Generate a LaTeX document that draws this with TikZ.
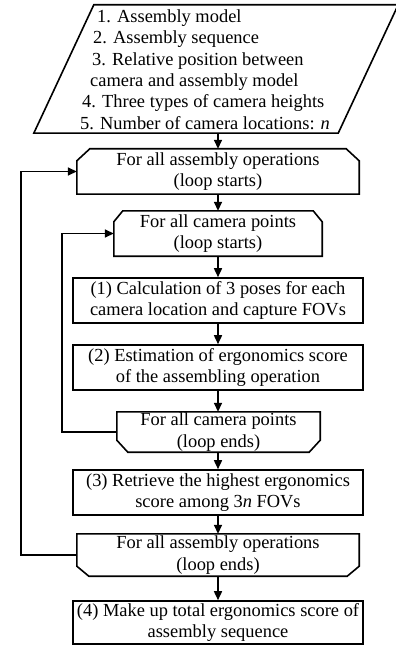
\documentclass[tikz,border=0pt]{standalone}
\usepackage{fontspec}
\setmainfont{Liberation Serif}
\usetikzlibrary{arrows.meta,calc}

% outline of a loop box whose top corners are cut off
\newcommand\chamtop[3]{%
  \draw[edge] (#1.south west) -- ($(#1.north west)+(0,#3)$) -- ($(#1.north west)+(#2,0)$)
    -- ($(#1.north east)+(-#2,0)$) -- ($(#1.north east)+(0,#3)$) -- (#1.south east) -- cycle;}
% outline of a loop box whose bottom corners are cut off
\newcommand\chambot[3]{%
  \draw[edge] (#1.north west) -- ($(#1.south west)+(0,-#3)$) -- ($(#1.south west)+(#2,0)$)
    -- ($(#1.south east)+(-#2,0)$) -- ($(#1.south east)+(0,-#3)$) -- (#1.north east) -- cycle;}

\begin{document}
\begin{tikzpicture}[x=1bp,y=-1bp,
  every node/.style={font=\fontsize{18.5}{21.5}\selectfont, align=center, inner sep=0pt},
  edge/.style={line width=1.6bp, line join=miter},
  stepbox/.style={edge, draw, minimum width=290bp, minimum height=45bp},
  flow/.style={line width=1.6bp, -{Triangle[length=9bp,width=8bp]}}
]
\useasboundingbox (0,0) rectangle (395,646);

% input data (parallelogram)
\node[minimum width=304bp, minimum height=128bp] (in) at (216,69) {};
\draw[edge] ($(in.south west)+(-30,0)$) -- ($(in.south east)+(-30,0)$)
  -- ($(in.north east)+(30,0)$) -- ($(in.north west)+(30,0)$) -- cycle;
\node[anchor=west, align=left] (intext) at (80,69.5) {%
  \hspace*{17bp}1. Assembly model\\
  \hspace*{13bp}2. Assembly sequence\\
  \hspace*{12bp}3. Relative position between\\
  \hspace*{10bp}camera and assembly model\\
  \hspace*{2bp}4. Three types of camera heights\\
  5. Number of camera locations: \textit{n}};

% loop headers, steps and loop ends
\node[minimum width=282bp, minimum height=45bp] (loopA) at (218,171.5)
  {For all assembly operations\\(loop starts)};
\chamtop{loopA}{13}{12}
\node[minimum width=208bp, minimum height=45bp] (loopB) at (218,233.5)
  {For all camera points\\(loop starts)};
\chamtop{loopB}{9}{11}
\node[stepbox] (s1) at (218,300.5)
  {(1) Calculation of 3 poses for each\\camera location and capture FOVs};
\node[stepbox] (s2) at (218,367.5)
  {(2) Estimation of ergonomics score\\of the assembling operation};
\node[minimum width=203bp, minimum height=40bp] (loopBe) at (218.5,432)
  {For all camera points\\(loop ends)};
\chambot{loopBe}{11}{12}
\node[stepbox] (s3) at (218,492.5)
  {(3) Retrieve the highest ergonomics\\score among 3\textit{n} FOVs};
\node[minimum width=282bp, minimum height=42bp] (loopAe) at (218,555)
  {For all assembly operations\\(loop ends)};
\chambot{loopAe}{12}{10}
\node[stepbox, minimum height=43bp] (s4) at (218,622.5)
  {(4) Make up total ergonomics score of\\assembly sequence};

% main flow
\draw[flow] (in.south -| loopA.north) -- (loopA.north);
\draw[flow] (loopA) -- (loopB);
\draw[flow] (loopB) -- (s1);
\draw[flow] (s1) -- (s2);
\draw[flow] (s2.south) -- (s2.south |- loopBe.north);
\draw[flow] (loopBe.south -| s3.north) -- (s3.north);
\draw[flow] (s3) -- (s3 |- loopAe.north);
\draw[flow] (loopAe) -- (s4);

% loop-back connectors
\draw[flow] (loopBe.west) -- ++(-55,0) |- (loopB.west);
\draw[flow] (loopAe.west) -- ++(-56,0) |- (loopA.west);
\end{tikzpicture}
\end{document}
